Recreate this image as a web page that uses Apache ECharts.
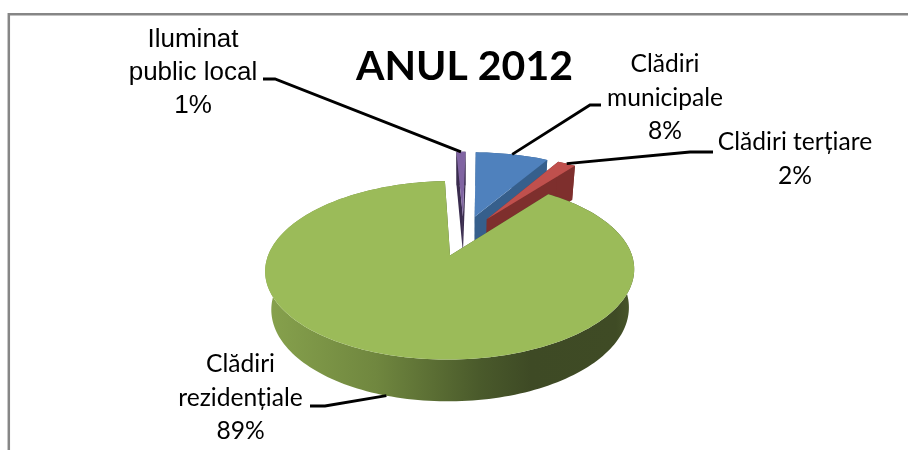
<!DOCTYPE html>
<html>
<head>
<meta charset="utf-8">
<style>html,body{margin:0;padding:0;background:#fff}#chart{width:908px;height:450px}</style>
<script src="https://cdn.jsdelivr.net/npm/echarts@6/dist/echarts.min.js"></script>
</head>
<body>
<div id="chart"></div>
<script>
// Energy consumption shares per sector, year 2012
const chartTitle = 'ANUL 2012';
const categories = ['Clădiri municipale', 'Clădiri terțiare', 'Clădiri rezidențiale', 'Iluminat public local'];
const values = [8, 2, 89, 1];
const labelLines = [['Clădiri', 'municipale'], ['Clădiri terțiare'], ['Clădiri', 'rezidențiale'], ['Iluminat', 'public local']];

const topColors = ['#4f81bd', '#c0504d', '#9bbb59', '#8064a2'];
const wallColors = ['#365f8c', '#7e2f2d', '#4a5a2b', '#3a2c4e'];

// Perspective model of the tilted disc
const view = { x0: 463.5, y0: 235.5, A: 175, B: 80.3, k: 0.16, H: 38.5, m: 0.03, explode: 0.25, startDeg: 1 };

function project(u, v, z) {
  const w = 1 - view.k * v + view.m * z;
  return [view.x0 + view.A * u / w, view.y0 + (view.B * v + view.H * z) / w];
}

const total = values.reduce((a, b) => a + b, 0);
const slices = [];
values.reduce((acc, val) => {
  const a0 = view.startDeg + acc / total * 360;
  const a1 = view.startDeg + (acc + val) / total * 360;
  const mid = (a0 + a1) / 2 * Math.PI / 180;
  slices.push({
    a0, a1, mid,
    ox: Math.sin(mid) * view.explode,
    oy: -Math.cos(mid) * view.explode
  });
  return acc + val;
}, 0);

function rimPoint(s, deg, z) {
  const t = deg * Math.PI / 180;
  return project(s.ox + Math.sin(t), s.oy - Math.cos(t), z);
}

function arcPoints(s, z) {
  const pts = [];
  const steps = Math.max(4, Math.ceil((s.a1 - s.a0) / 1.5));
  for (let i = 0; i <= steps; i++) {
    pts.push(rimPoint(s, s.a0 + (s.a1 - s.a0) * i / steps, z));
  }
  return pts;
}

// Back slices are painted first; the near side overlaps them
const depthRank = slices.map((s, i) => [s.oy, i]).sort((a, b) => a[0] - b[0]).map(p => p[1]);

const wallGradient = i => i === 2
  ? new echarts.graphic.LinearGradient(0, 0, 1, 0, [
      { offset: 0, color: '#87a24d' },
      { offset: 0.3, color: '#70873f' },
      { offset: 0.58, color: '#4a5a2b' },
      { offset: 0.72, color: '#3e4a25' },
      { offset: 0.95, color: '#3f4b25' },
      { offset: 1, color: '#4a582b' }
    ])
  : wallColors[i];

function renderSlice(params) {
  const i = params.dataIndex;
  const s = slices[i];
  const rank = depthRank.indexOf(i) * 10;
  const topArc = arcPoints(s, 0);
  const lowArc = arcPoints(s, 1);
  const apexTop = project(s.ox, s.oy, 0);
  const apexLow = project(s.ox, s.oy, 1);
  const poly = (points, fill, z2) => ({
    type: 'polygon', z2, shape: { points }, style: { fill, stroke: null }
  });
  return {
    type: 'group',
    children: [
      poly([apexTop, topArc[0], lowArc[0], apexLow], wallColors[i], rank),
      poly([apexTop, topArc[topArc.length - 1], lowArc[lowArc.length - 1], apexLow], wallColors[i], rank + 1),
      poly(topArc.concat(lowArc.slice().reverse()), wallGradient(i), rank + 2),
      poly([apexTop].concat(topArc), topColors[i], rank + 3)
    ]
  };
}

// Leader bends and label anchors, in the same order as the categories
const leaderBends = [[[590, 105], [601, 105]], [[690, 152], [713, 152]], [[325, 406], [310, 406]], [[275, 79], [263, 79]]];
const labelAnchors = [[665, 98], [795, 159], [240.5, 398], [193, 73]];
const labelFonts = ['Lato', 'Lato', 'Lato', 'Liberation Sans'];

function leaderStart(i) {
  const s = slices[i];
  const deg = s.mid * 180 / Math.PI;
  return rimPoint(s, deg, s.oy > 0 ? 1 : 0);
}

const graphics = [
  { type: 'polyline', silent: true, z: 1, shape: { points: [[8.8, 450], [8.8, 14.2], [908, 14.2]] },
    style: { fill: null, stroke: '#868686', lineWidth: 2.5 } }
];
categories.forEach((name, i) => {
  graphics.push({
    type: 'polyline', silent: true, z: 5,
    shape: { points: [leaderStart(i)].concat(leaderBends[i]) },
    style: { fill: null, stroke: '#000', lineWidth: 2.8 }
  });
  graphics.push({
    type: 'text', silent: true, z: 6,
    x: labelAnchors[i][0], y: labelAnchors[i][1],
    style: {
      text: labelLines[i].concat(values[i] + '%').join('\n'),
      fill: '#000',
      font: (i === 3 ? 26 : 24.6) + 'px "' + labelFonts[i] + '"',
      lineHeight: i === 3 ? 33 : 33.5,
      align: 'center', verticalAlign: 'middle'
    }
  });
});

const chart = echarts.init(document.getElementById('chart'), null, { renderer: 'canvas' });
chart.setOption({
  animation: false,
  backgroundColor: '#fff',
  title: {
    text: chartTitle, left: 459.5, top: 41, textAlign: 'center',
    textStyle: { fontFamily: 'Lato', fontWeight: 'bold', fontSize: 41, color: '#000' }
  },
  series: [{
    type: 'custom',
    coordinateSystem: 'none',
    silent: true,
    renderItem: renderSlice,
    data: categories.map((name, i) => ({ name, value: values[i] }))
  }],
  graphic: graphics
});
</script>
</body>
</html>
